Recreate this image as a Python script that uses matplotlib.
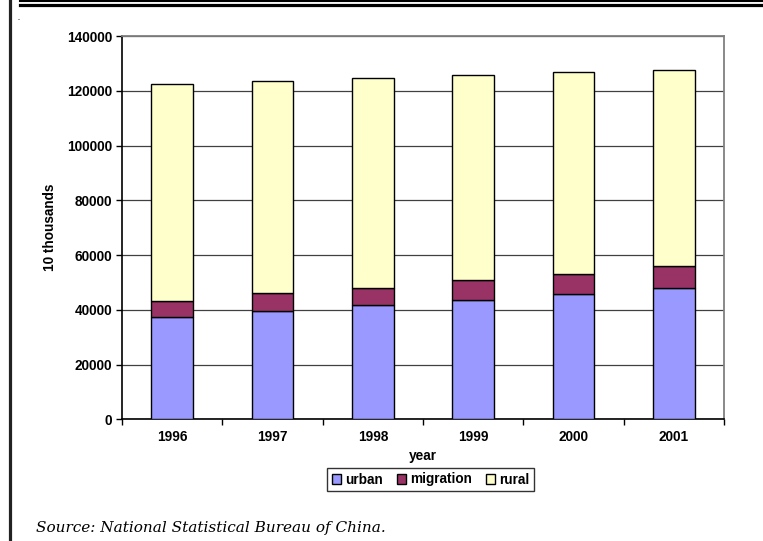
#!usr/bin/python

"""
China population 1996-2001: urban / migration / rural, stacked bars
"""
import matplotlib.pyplot as plt
from matplotlib.lines import Line2D
import numpy as np

# data (10 thousands)
years = ['1996', '1997', '1998', '1999', '2000', '2001']
urban = [37300, 39400, 41700, 43600, 45600, 47900]
migration = [5850, 6700, 6300, 7100, 7600, 8000]
total = [122389, 123626, 124761, 125786, 126743, 127627]
rural = [t - u - m for t, u, m in zip(total, urban, migration)]

series_names = ['urban', 'migration', 'rural']
series_colours = ['#9999FF', '#993366', '#FFFFCC']

W, H = 763, 541


def main():
    plt.rcParams['font.family'] = ['Liberation Sans', 'DejaVu Sans']
    plt.rcParams['font.weight'] = 'bold'
    fs = 9.8

    fig = plt.figure(figsize=(W / 100, H / 100), dpi=100)
    ax = fig.add_axes([122 / W, 1 - 419.3 / H, 602 / W, 383.3 / H])

    x = np.arange(len(years))
    bottoms = np.zeros(len(years))
    for vals, name, col in zip([urban, migration, rural], series_names, series_colours):
        ax.bar(x, vals, width=0.415, bottom=bottoms, color=col,
               edgecolor='black', linewidth=1.0, label=name, zorder=3)
        bottoms = bottoms + np.array(vals)

    ax.set_xlim(-0.5, len(years) - 0.5)
    ax.set_ylim(0, 140000)
    ax.set_yticks(np.arange(0, 140001, 20000))
    ax.yaxis.grid(True, color='#404040', linewidth=0.9, zorder=0)
    ax.set_axisbelow(True)

    # category ticks between bars, labels centred
    ax.set_xticks(np.arange(-0.5, len(years), 1.0))
    ax.set_xticklabels([])
    ax.set_xticks(x, minor=True)
    ax.set_xticklabels(years, minor=True, fontsize=fs, fontweight='bold')
    ax.tick_params(axis='x', which='minor', length=0, pad=8)
    ax.tick_params(axis='x', which='major', length=4, width=1, direction='out')
    ax.tick_params(axis='y', length=4, width=1, direction='out', labelsize=fs, pad=3)
    for lab in ax.get_yticklabels():
        lab.set_fontweight('bold')

    for side in ['top', 'right']:
        ax.spines[side].set_color('#808080')
        ax.spines[side].set_linewidth(1.3)
    for side in ['left', 'bottom']:
        ax.spines[side].set_color('black')
        ax.spines[side].set_linewidth(1.2)

    fig.text(423 / W, 1 - 456 / H, 'year', ha='center', va='center',
             fontsize=fs, fontweight='bold')
    fig.text(50 / W, 1 - 227 / H, '10 thousands', ha='center', va='center',
             rotation=90, fontsize=fs, fontweight='bold')

    leg = fig.legend(loc='center', bbox_to_anchor=(430.5 / W, 1 - 479.5 / H), ncol=3,
                     fontsize=fs, frameon=True, fancybox=False, edgecolor='black',
                     handlelength=0.7, handleheight=0.7, handletextpad=0.3,
                     columnspacing=1.0, borderpad=0.35, borderaxespad=0)
    leg.get_frame().set_linewidth(1.0)
    for txt in leg.get_texts():
        txt.set_fontweight('bold')

    # page decorations
    fig.add_artist(Line2D([20 / W, 1], [1 - 1 / H, 1 - 1 / H], color='black', linewidth=1.5))
    fig.add_artist(Line2D([20 / W, 1], [1 - 5.2 / H, 1 - 5.2 / H], color='black', linewidth=2.3))
    fig.add_artist(Line2D([9.5 / W, 9.5 / W], [0, 1], color='#222222', linewidth=2.3))
    fig.text(19 / W, 1 - 18 / H, '.', fontsize=5, ha='center', va='center')

    fig.text(36 / W, 1 - 528 / H, 'Source: National Statistical Bureau of China.',
             ha='left', va='center', fontsize=11, style='italic',
             fontweight='normal', family=['DejaVu Serif'])

    fig.savefig('out.png', dpi=100)


if __name__ == '__main__':
    main()
